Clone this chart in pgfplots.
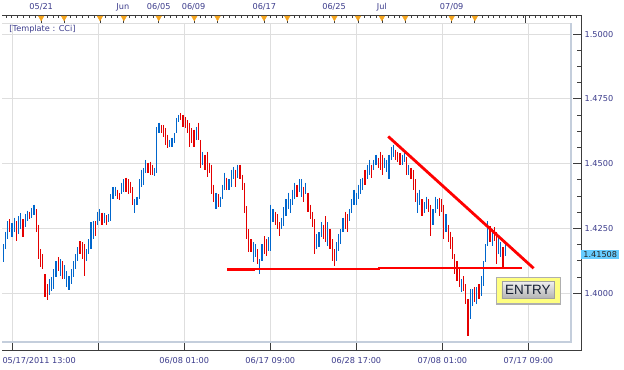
\documentclass[border=0pt]{standalone}
\usepackage{pgfplots}
\pgfplotsset{compat=1.18}
\usepackage{pgfplotstable}
\usepackage{fontspec}
\newfontfamily\lab{DejaVu Sans}
\newfontfamily\arial{Liberation Sans}
\definecolor{barblue}{RGB}{0,102,204}
\definecolor{barred}{RGB}{228,0,0}
\definecolor{gridc}{RGB}{222,222,222}
\definecolor{borderc}{RGB}{196,206,220}
\definecolor{labc}{RGB}{60,60,140}
\definecolor{tickc}{RGB}{60,60,60}
\definecolor{mk}{RGB}{245,165,30}
\definecolor{pricebox}{RGB}{102,204,255}
\definecolor{entryyel}{RGB}{255,255,128}
\tikzset{lab/.style={font=\lab\fontsize{8.2}{9}\selectfont, text=labc}}

\pgfplotstableread{
lo hi d
1.4119 1.4189 1
1.4169 1.4238 1
1.4208 1.4277 1
1.4235 1.4285 0
1.4216 1.4269 1
1.4238 1.4292 1
1.4200 1.4277 0
1.4227 1.4296 1
1.4246 1.4308 1
1.4216 1.4285 0
1.4254 1.4304 1
1.4277 1.4319 1
1.4285 1.4315 0
1.4292 1.4327 1
1.4300 1.4342 1
1.4238 1.4323 0
1.4131 1.4265 0
1.4100 1.4169 0
1.4092 1.4150 0
1.3985 1.4073 0
1.3973 1.4035 0
1.3992 1.4054 1
1.4008 1.4061 1
1.4015 1.4092 1
1.4061 1.4123 1
1.4085 1.4138 0
1.4066 1.4131 1
1.4054 1.4123 0
1.4054 1.4108 1
1.4023 1.4085 1
1.4012 1.4066 1
1.4035 1.4092 1
1.4061 1.4123 1
1.4092 1.4150 1
1.4123 1.4177 1
1.4150 1.4200 0
1.4131 1.4196 0
1.4066 1.4189 0
1.4123 1.4169 1
1.4150 1.4208 1
1.4169 1.4273 1
1.4208 1.4277 1
1.4219 1.4277 0
1.4262 1.4315 1
1.4277 1.4323 1
1.4265 1.4311 0
1.4269 1.4308 1
1.4265 1.4300 0
1.4273 1.4304 1
1.4277 1.4381 1
1.4362 1.4408 1
1.4377 1.4411 1
1.4362 1.4400 0
1.4358 1.4388 0
1.4381 1.4427 1
1.4392 1.4439 1
1.4392 1.4446 0
1.4381 1.4439 0
1.4388 1.4431 0
1.4342 1.4408 0
1.4311 1.4362 1
1.4342 1.4373 1
1.4362 1.4439 1
1.4408 1.4477 1
1.4419 1.4484 1
1.4465 1.4515 1
1.4465 1.4504 0
1.4458 1.4508 0
1.4458 1.4496 0
1.4454 1.4484 1
1.4465 1.4642 1
1.4619 1.4658 1
1.4619 1.4650 0
1.4604 1.4650 0
1.4573 1.4638 0
1.4561 1.4612 0
1.4565 1.4592 1
1.4565 1.4600 1
1.4581 1.4619 1
1.4619 1.4677 1
1.4662 1.4688 1
1.4669 1.4696 0
1.4642 1.4688 0
1.4638 1.4681 0
1.4619 1.4669 0
1.4565 1.4658 0
1.4581 1.4638 0
1.4565 1.4631 0
1.4592 1.4642 1
1.4592 1.4658 0
1.4484 1.4592 0
1.4496 1.4546 1
1.4477 1.4535 0
1.4450 1.4546 0
1.4465 1.4504 0
1.4381 1.4496 0
1.4350 1.4419 0
1.4323 1.4388 1
1.4331 1.4381 0
1.4331 1.4373 1
1.4362 1.4419 1
1.4400 1.4465 1
1.4400 1.4446 0
1.4400 1.4439 1
1.4411 1.4477 1
1.4439 1.4488 1
1.4411 1.4477 0
1.4446 1.4496 1
1.4439 1.4496 0
1.4400 1.4458 0
1.4311 1.4427 0
1.4208 1.4335 0
1.4158 1.4246 0
1.4158 1.4208 0
1.4119 1.4196 1
1.4138 1.4189 1
1.4112 1.4169 0
1.4073 1.4131 1
1.4123 1.4189 1
1.4150 1.4219 0
1.4142 1.4208 0
1.4162 1.4216 1
1.4162 1.4342 1
1.4273 1.4323 1
1.4265 1.4315 0
1.4246 1.4304 0
1.4219 1.4273 0
1.4246 1.4292 1
1.4258 1.4331 1
1.4296 1.4362 1
1.4323 1.4388 1
1.4311 1.4362 1
1.4342 1.4400 1
1.4362 1.4427 1
1.4373 1.4419 0
1.4392 1.4439 1
1.4373 1.4439 1
1.4350 1.4411 0
1.4381 1.4427 1
1.4315 1.4388 0
1.4285 1.4342 0
1.4254 1.4315 0
1.4150 1.4285 0
1.4169 1.4227 1
1.4177 1.4235 1
1.4216 1.4273 1
1.4208 1.4265 0
1.4196 1.4296 0
1.4181 1.4273 1
1.4169 1.4246 0
1.4123 1.4208 0
1.4104 1.4169 0
1.4123 1.4196 1
1.4162 1.4227 1
1.4189 1.4246 1
1.4235 1.4292 1
1.4246 1.4315 0
1.4238 1.4304 0
1.4277 1.4323 1
1.4311 1.4362 1
1.4342 1.4400 1
1.4342 1.4388 1
1.4362 1.4419 1
1.4381 1.4439 1
1.4400 1.4446 1
1.4419 1.4477 0
1.4439 1.4496 1
1.4458 1.4515 1
1.4446 1.4496 0
1.4477 1.4515 1
1.4496 1.4535 1
1.4484 1.4523 0
1.4477 1.4546 0
1.4458 1.4535 0
1.4484 1.4523 1
1.4469 1.4515 1
1.4439 1.4535 1
1.4515 1.4565 1
1.4527 1.4573 1
1.4515 1.4554 0
1.4508 1.4546 0
1.4496 1.4542 0
1.4496 1.4535 1
1.4508 1.4542 1
1.4458 1.4527 0
1.4458 1.4496 1
1.4439 1.4484 0
1.4400 1.4477 0
1.4350 1.4439 0
1.4311 1.4388 1
1.4342 1.4400 1
1.4296 1.4362 0
1.4311 1.4350 1
1.4323 1.4373 1
1.4315 1.4362 0
1.4219 1.4342 0
1.4265 1.4323 1
1.4311 1.4373 1
1.4323 1.4362 1
1.4296 1.4369 0
1.4315 1.4362 0
1.4208 1.4342 0
1.4238 1.4304 1
1.4196 1.4265 0
1.4169 1.4238 0
1.4131 1.4216 0
1.4073 1.4150 0
1.4046 1.4123 0
1.4023 1.4100 0
1.4004 1.4054 1
1.4008 1.4066 0
1.3958 1.4035 0
1.3835 1.3977 0
1.3900 1.4015 1
1.3950 1.4015 1
1.3965 1.4023 0
1.3958 1.4023 1
1.3977 1.4035 0
1.3988 1.4066 1
1.4027 1.4123 1
1.4119 1.4189 1
1.4181 1.4277 1
1.4196 1.4258 0
1.4181 1.4246 1
1.4200 1.4254 0
1.4112 1.4235 0
1.4150 1.4216 1
1.4138 1.4196 1
1.4100 1.4177 0
1.4142 1.4192 1
}\bars

\begin{document}
\begin{tikzpicture}
\fill[white] (0pt,-19pt) rectangle (624pt,352pt);
\begin{axis}[
  at={(0pt,0pt)}, anchor=south west,
  scale only axis, width=581pt, height=337pt,
  xmin=0, xmax=581, ymin=1.377692, ymax=1.507308,
  axis line style={draw=none},
  clip=false,
  tick align=inside,
  xtick pos=left,
  ytick pos=right, yticklabel pos=right,
  xtick={10,96.33,182.67,269,355.33,441.67,528},
  xticklabels={,,06/08 01:00,06/17 09:00,06/28 17:00,07/08 01:00,07/17 09:00},
  minor x tick num=7,
  ytick={1.4,1.425,1.45,1.475,1.5},
  yticklabels={1.4000,1.4250,1.4500,1.4750,1.5000},
  minor y tick num=3,
  major tick length=8pt, minor tick length=4pt,
  tick style={tickc, line width=0.8pt},
  tick label style={font=\lab\fontsize{8.2}{9}\selectfont, text=labc},
  xticklabel style={yshift=-3pt},
]
% grid
\addplot[gridc, line width=0.8pt, forget plot] coordinates {(0,1.5) (571,1.5)};
\addplot[gridc, line width=0.8pt, forget plot] coordinates {(0,1.475) (571,1.475)};
\addplot[gridc, line width=0.8pt, forget plot] coordinates {(0,1.45) (571,1.45)};
\addplot[gridc, line width=0.8pt, forget plot] coordinates {(0,1.425) (571,1.425)};
\addplot[gridc, line width=0.8pt, forget plot] coordinates {(0,1.4) (571,1.4)};
\addplot[gridc, line width=0.8pt, forget plot] coordinates {(10,1.381154) (10,1.504231)};
\addplot[gridc, line width=0.8pt, forget plot] coordinates {(96.33,1.381154) (96.33,1.504231)};
\addplot[gridc, line width=0.8pt, forget plot] coordinates {(182.67,1.381154) (182.67,1.504231)};
\addplot[gridc, line width=0.8pt, forget plot] coordinates {(269,1.381154) (269,1.504231)};
\addplot[gridc, line width=0.8pt, forget plot] coordinates {(355.33,1.381154) (355.33,1.504231)};
\addplot[gridc, line width=0.8pt, forget plot] coordinates {(441.67,1.381154) (441.67,1.504231)};
\addplot[gridc, line width=0.8pt, forget plot] coordinates {(528,1.381154) (528,1.504231)};
% plot area border
\addplot[gridc, line width=0.8pt, forget plot] coordinates {(0,1.504231) (571,1.504231)};
\addplot[borderc, line width=1.8pt, forget plot] coordinates {(571,1.504231) (571,1.381154) (0,1.381154)};
% bars
\addplot[draw=none, mark=none, forget plot,
  restrict expr to domain={\thisrow{d}}{0.5:1.5},
  error bars/.cd, y dir=minus, y explicit, error mark=none,
  error bar style={draw=barblue, line width=1.2pt}]
  table[x expr=\coordindex*2.2+1, y=hi, y error minus expr=\thisrow{hi}-\thisrow{lo}] {\bars};
\addplot[draw=none, mark=none, forget plot,
  restrict expr to domain={\thisrow{d}}{-0.5:0.5},
  error bars/.cd, y dir=minus, y explicit, error mark=none,
  error bar style={draw=barred, line width=1.2pt}]
  table[x expr=\coordindex*2.2+1, y=hi, y error minus expr=\thisrow{hi}-\thisrow{lo}] {\bars};
% trend lines
\addplot[red, line width=2.8pt, forget plot] coordinates {(387.3,1.4605) (533.3,1.4096)};
\addplot[red, line width=2.8pt, forget plot] coordinates {(226,1.4090) (252,1.4090) (252,1.4093) (378,1.4093) (378,1.4097) (522,1.4097)};
% frame
\draw[tickc, line width=0.9pt] (rel axis cs:0,1) -- (rel axis cs:1,1) -- (rel axis cs:1,0) -- (rel axis cs:0,0);
% top small ticks
\pgfplotsinvokeforeach{0,...,97}{\draw[tickc, line width=0.7pt] (axis cs:{3.6+5.9*#1},1.507308) -- ++(0pt,-3pt);}
% event stems
\pgfplotsinvokeforeach{39,62,98,122,157,192.7,216,262.7,286,333.3,357,381,404.3,451,474.3,525}{\draw[tickc, line width=0.8pt] (axis cs:#1,1.507308) -- (axis cs:#1,1.504231);}
\addplot[only marks, mark=triangle*, mark size=3.2pt, mark options={rotate=180, fill=mk, draw=mk}, forget plot]
  coordinates {(39,1.50635) (62,1.50635) (98,1.50635) (122,1.50635) (157,1.50635) (192.7,1.50635) (216,1.50635) (262.7,1.50635) (286,1.50635) (333.3,1.50635) (357,1.50635) (381,1.50635) (404.3,1.50635) (451,1.50635) (474.3,1.50635)};
% top labels
\node[lab] at (axis cs:39,1.51038) {05/21};
\node[lab] at (axis cs:121,1.51038) {Jun};
\node[lab] at (axis cs:157,1.51038) {06/05};
\node[lab] at (axis cs:192,1.51038) {06/09};
\node[lab] at (axis cs:263,1.51038) {06/17};
\node[lab] at (axis cs:333,1.51038) {06/25};
\node[lab] at (axis cs:381,1.51038) {Jul};
\node[lab] at (axis cs:451,1.51038) {07/09};
% first bottom label
\node[lab, anchor=north west, inner xsep=0pt, yshift=-3pt] at (axis cs:0,1.377692) {05/17/2011 13:00};
% template text
\node[lab, anchor=west, inner sep=0pt] at (axis cs:7,1.50192) {[Template : CCi]};
% price box
\node[fill=pricebox, anchor=west, inner xsep=2pt, inner ysep=1.5pt, font=\lab\fontsize{8.2}{9}\selectfont, text=black!85] at (axis cs:581,1.41508) {1.41508};
% entry box
\node[draw={rgb,255:red,175;green,175;blue,175}, line width=1.3pt, fill=entryyel, minimum width=64pt, minimum height=27pt, inner sep=0pt] at (axis cs:528,1.40096) {};
\node[draw={rgb,255:red,160;green,160;blue,160}, line width=0.5pt, top color={rgb,255:red,238;green,238;blue,238}, bottom color={rgb,255:red,178;green,178;blue,178}, minimum width=52pt, minimum height=17pt, inner sep=0pt, font=\arial\fontsize{13.5}{14}\selectfont, text={rgb,255:red,20;green,30;blue,50}] at (axis cs:527.5,1.40115) {ENTRY};
\end{axis}
\end{tikzpicture}
\end{document}
